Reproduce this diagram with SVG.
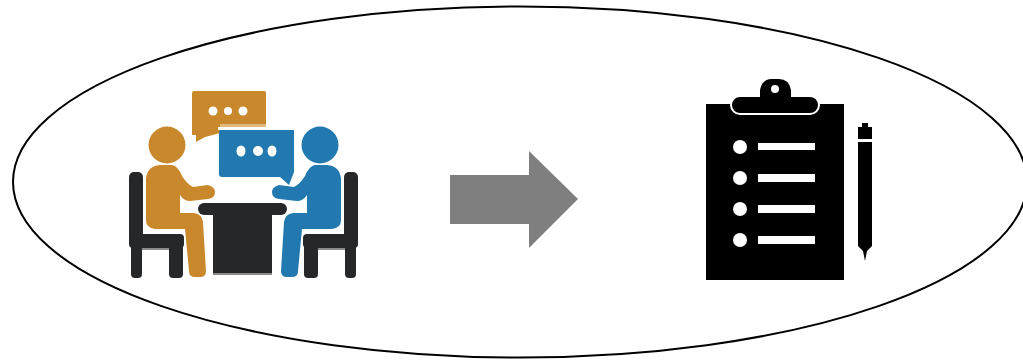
<svg xmlns="http://www.w3.org/2000/svg" width="1023" height="361" viewBox="0 0 1023 361">
<style>
.o{fill:#c9882b}.b{fill:#2279b0}.d{fill:#252729}.k{fill:#000}.w{fill:#fff}.sh{fill:#8a8a8a}
</style>
<defs>
<g id="chair">
<rect class="sh" x="142" y="246" width="27" height="4"/>
<rect class="d" x="129" y="172" width="14" height="72" rx="5"/>
<rect class="d" x="129" y="234" width="55" height="14" rx="4"/>
<rect class="d" x="131" y="240" width="11" height="38" rx="4"/>
<rect class="d" x="169" y="240" width="14" height="38" rx="4"/>
</g>
<path id="body" d="M146 179Q147 166 160 165L172 165Q178 166 182 176Q187 184 193 187L208 185Q215 187 215 192Q215 198 208 199L190 201Q184 201 180 195L180 213L194 213Q202 214 203 222L206 271Q206 277 200 277L195 277Q189 277 189 271L185 229L155 229Q146 228 146 220Z"/>
</defs>
<g id="outline"><ellipse cx="520" cy="182" rx="507" ry="175.5" fill="#fff" stroke="#000" stroke-width="2"/></g>
<g id="meeting">
<use href="#chair"/>
<use href="#chair" transform="translate(487 0) scale(-1 1)"/>
<circle class="o" cx="167" cy="145" r="18.500"/>
<circle class="b" cx="320" cy="145" r="18.500"/>
<use href="#body" class="o"/>
<use href="#body" class="b" transform="translate(487 0) scale(-1 1)"/>
<rect class="sh" x="213" y="270" width="59" height="5"/>
<rect class="d" x="213" y="210" width="59" height="63"/>
<rect class="d" x="198" y="203" width="89" height="12" rx="6"/>
<path class="o" d="M194 91H264Q266 91 266 93V127H220V133L205 137L196 142L196 135H192V93Q192 91 194 91Z"/>
<rect x="220" y="124" width="46" height="3" fill="#e0b97c"/>
<rect x="218" y="127" width="48" height="3" fill="#fff"/>
<path class="b" d="M221 130H294V172L289 185L280 177H222Q219 177 219 174V132Q219 130 221 130Z"/>
<circle class="w" cx="213" cy="111" r="4.500"/><circle class="w" cx="228" cy="111" r="4"/><circle class="w" cx="243" cy="111" r="4.500"/>
<ellipse class="w" cx="241" cy="151" rx="4.500" ry="5.500"/><circle class="w" cx="258" cy="151" r="5"/><ellipse class="w" cx="272" cy="151" rx="4.500" ry="5.500"/>
</g>
<g id="arrow"><polygon points="450,175 529,175 529,151 578,199 529,248 529,224 450,224" fill="#7f7f7f"/></g>
<g id="clipboard">
<rect class="k" x="706" y="104" width="138" height="176"/>
<rect x="731" y="96" width="88" height="18" rx="9" class="k" stroke="#fff" stroke-width="2"/>
<path class="k" d="M760 98V90Q762 79 772 79H779Q789 79 791 90V98Z"/>
<circle class="w" cx="775" cy="89" r="4"/>
<circle class="w" cx="740" cy="147" r="7"/><circle class="w" cx="740" cy="178" r="7"/><circle class="w" cx="740" cy="209" r="7"/><circle class="w" cx="740" cy="240" r="7"/>
<rect class="w" x="758" y="143" width="57" height="7"/><rect class="w" x="758" y="174" width="57" height="8"/><rect class="w" x="758" y="205" width="57" height="8"/><rect class="w" x="758" y="236" width="57" height="8"/>
</g>
<g id="pen">
<path class="k" d="M862 123H868V127H872V139H858V127H862Z"/>
<path class="k" d="M858 142H872V246L867 251L865 261L863 251L858 246Z"/>
</g>
</svg>
